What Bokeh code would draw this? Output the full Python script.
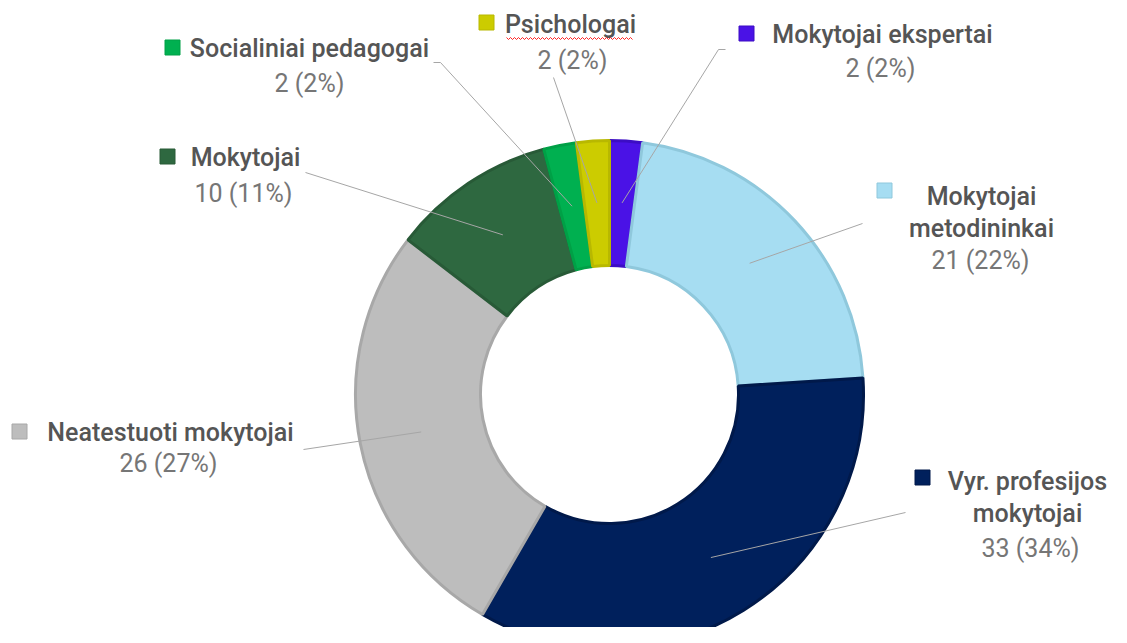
import numpy as np
from bokeh.plotting import figure
from bokeh.models import Range1d
from bokeh.core.properties import value
from bokeh.embed import file_html
from bokeh.resources import INLINE

# ---- data ----
categories = ["Mokytojai ekspertai", "Mokytojai\nmetodininkai", "Vyr. profesijos\nmokytojai",
              "Neatestuoti mokytojai", "Mokytojai", "Socialiniai pedagogai", "Psichologai"]
counts = [2, 21, 33, 26, 10, 2, 2]
percents = [2, 22, 34, 27, 11, 2, 2]
fill_colors = ["#4A12E6", "#A6DDF2", "#00205C", "#BDBDBD", "#2E6840", "#00B050", "#CCCC00"]
edge_colors = ["#3C0DC4", "#8FC8DC", "#00194A", "#A8A8A8", "#285A37", "#00A046", "#B8B800"]

# ---- layout (reference pixel coordinates, y downward) ----
W, H = 1111, 627
CX, CY = 609, 394
R_OUT, R_IN, R_LEAD = 254, 129, 192
name_pos = [(882, 34), (981, 196), (1027, 481), (170, 432), (245, 157), (309, 48), (570, 24)]
line_gap = 32
value_pos = [(880, 68), (980, 260), (1030, 548), (168, 463), (243, 193), (309, 83), (572, 60)]
square_pos = [(746, 33), (884, 190), (922, 477), (19, 431), (167, 156), (172, 47), (486, 22)]
leader_out = [[(725, 49), (718, 49)], [(862, 223)], [(905, 512)], [(303, 449)],
              [(305, 172)], [(433, 62), (440, 62)], [(553, 77)]]

NAME_FONT = "'Roboto Medium', Roboto"
VALUE_FONT = "Roboto"
NAME_COLOR = "#555555"
VALUE_COLOR = "#767676"


def Y(ry):
    return 643 - ry


p = figure(width=W, height=H, x_range=Range1d(0, W), y_range=Range1d(643 - H, 643),
           output_backend="svg", toolbar_location=None,
           x_axis_location=None, y_axis_location=None, min_border=0)
p.grid.visible = False
p.outline_line_color = None
p.background_fill_color = "white"

total = float(sum(counts))
cum = np.concatenate([[0.0], np.cumsum(counts)]) / total * 2 * np.pi
starts = np.pi / 2 - cum[:-1]
ends = np.pi / 2 - cum[1:]
mids = (cum[:-1] + cum[1:]) / 2

p.annular_wedge(x=CX, y=Y(CY), inner_radius=R_IN, outer_radius=R_OUT,
                start_angle=list(starts), end_angle=list(ends), direction="clock",
                fill_color=fill_colors, line_color=edge_colors, line_width=3)

# leader lines
for i in range(len(categories)):
    ix = CX + R_LEAD * np.sin(mids[i])
    iy = Y(CY) + R_LEAD * np.cos(mids[i])
    xs = [pt[0] for pt in leader_out[i]] + [ix]
    ys = [Y(pt[1]) for pt in leader_out[i]] + [iy]
    p.line(xs, ys, line_color="#A6A6A6", line_width=1)

# labels
for i, cat in enumerate(categories):
    lines = cat.split("\n")
    nx, ny = name_pos[i]
    for k, ln in enumerate(lines):
        p.text(x=[nx], y=[Y(ny + k * line_gap)], text=[ln], text_align="center",
               text_baseline="middle", text_font=value(NAME_FONT), text_font_size="25px",
               text_color=NAME_COLOR)
    vx, vy = value_pos[i]
    p.text(x=[vx], y=[Y(vy)], text=[f"{counts[i]} ({percents[i]}%)"], text_align="center",
           text_baseline="middle", text_font=value(VALUE_FONT), text_font_size="25px",
           text_color=VALUE_COLOR)
    sx, sy = square_pos[i]
    p.scatter(x=[sx], y=[Y(sy)], marker="square", size=15, fill_color=fill_colors[i],
              line_color=edge_colors[i], line_width=1)

# spell-check style wavy underline under "Psichologai"
wx = np.arange(506, 634, 2.0)
wy = np.where((np.arange(len(wx)) % 2) == 0, Y(37), Y(39))
p.line(wx, wy, line_color="#FF2020", line_width=1)

open("out.html", "w").write(file_html(p, INLINE))
